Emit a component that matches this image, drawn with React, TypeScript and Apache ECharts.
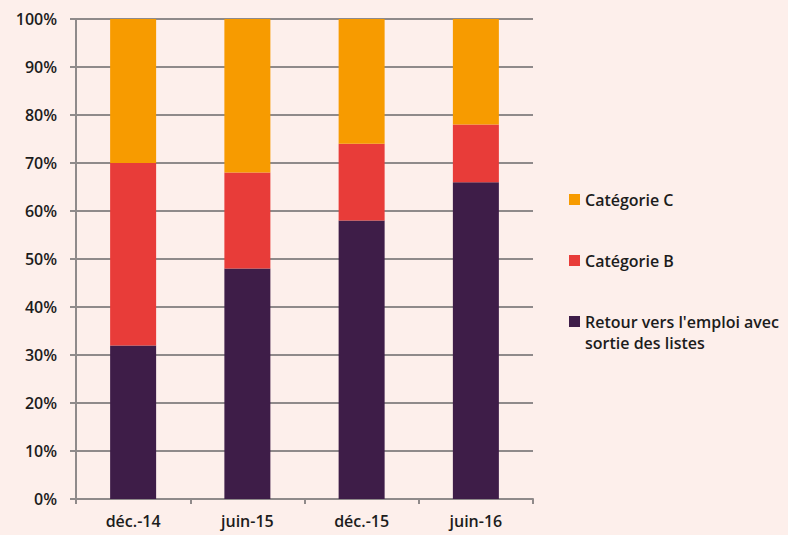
import React, { useEffect, useRef } from "react";
import * as echarts from "echarts";

const categories = ["déc.-14", "juin-15", "déc.-15", "juin-16"];
const retourValues = [32, 48, 58, 66];
const catBValues = [38, 20, 16, 12];
const catCValues = [30, 32, 26, 22];
const yTicks = [0, 10, 20, 30, 40, 50, 60, 70, 80, 90, 100];

const NAME_RETOUR = "Retour vers l'emploi avec\nsortie des listes";
const NAME_B = "Catégorie B";
const NAME_C = "Catégorie C";

const FONT = "'Open Sans', 'Noto Sans', sans-serif";
const GRAY = "#8f8a8a";

export default function App() {
  const ref = useRef<HTMLDivElement>(null);
  useEffect(() => {
    if (!ref.current) return;
    const chart = echarts.init(ref.current, null, { renderer: "svg" });
    const legendText = {
      fontFamily: FONT,
      fontSize: 16,
      fontWeight: 600,
      color: "#1c1c1c",
      lineHeight: 21,
    };
    const mkLegend = (name: string, top: number, leadBlank?: boolean) => ({
      data: [name],
      orient: "vertical",
      left: 569,
      top,
      padding: 0,
      itemWidth: 11,
      itemHeight: 11,
      itemGap: 0,
      icon: "rect",
      selectedMode: false,
      textStyle: legendText,
      formatter: leadBlank ? (n: string) => "\n" + n : undefined,
    });
    chart.setOption({
      animation: false,
      backgroundColor: "#fdefeb",
      grid: { left: 76, right: 255, top: 19, bottom: 36 },
      legend: [
        mkLegend(NAME_C, 189),
        mkLegend(NAME_B, 250),
        mkLegend(NAME_RETOUR, 290, true),
      ],
      xAxis: {
        type: "category",
        data: categories,
        axisLine: { lineStyle: { color: GRAY, width: 2 } },
        axisTick: { show: true, length: 5, lineStyle: { color: GRAY, width: 2 } },
        axisLabel: {
          fontFamily: FONT,
          fontSize: 16,
          fontWeight: 600,
          color: "#1c1c1c",
          margin: 14,
        },
      },
      yAxis: {
        type: "value",
        min: yTicks[0],
        max: yTicks[yTicks.length - 1],
        interval: 10,
        axisLine: { show: true, lineStyle: { color: GRAY, width: 2 } },
        axisTick: { show: true, length: 6, lineStyle: { color: GRAY, width: 2 } },
        splitLine: { show: true, lineStyle: { color: GRAY, width: 2 } },
        axisLabel: {
          fontFamily: FONT,
          fontSize: 16,
          fontWeight: 600,
          color: "#1c1c1c",
          margin: 19,
          formatter: (v: number) => v + "%",
        },
      },
      series: [
        {
          name: NAME_RETOUR,
          type: "bar",
          stack: "total",
          barWidth: 46,
          data: retourValues,
          itemStyle: { color: "#3e1d48" },
        },
        {
          name: NAME_B,
          type: "bar",
          stack: "total",
          barWidth: 46,
          data: catBValues,
          itemStyle: { color: "#e83c39" },
        },
        {
          name: NAME_C,
          type: "bar",
          stack: "total",
          barWidth: 46,
          data: catCValues,
          itemStyle: { color: "#f79b00" },
        },
      ],
    });
    return () => chart.dispose();
  }, []);
  return <div ref={ref} style={{ width: 788, height: 535, position: "absolute", left: 0, top: 0 }} />;
}
